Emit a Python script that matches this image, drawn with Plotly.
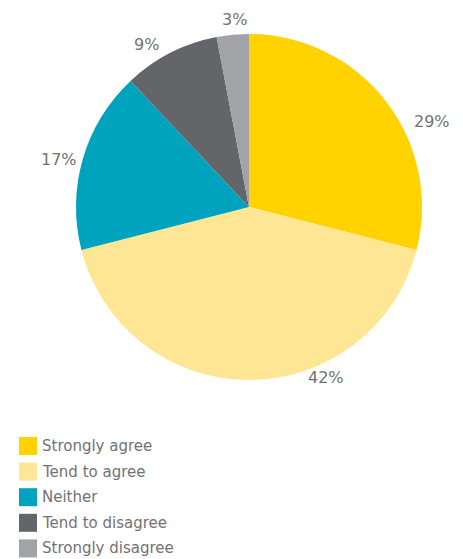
import plotly.graph_objects as go

# Survey response shares (percent)
categories = ["Strongly agree", "Tend to agree", "Neither", "Tend to disagree", "Strongly disagree"]
values = [29, 42, 17, 9, 3]
colors = ["#FFD200", "#FFE695", "#00A3BD", "#646569", "#A2A3A6"]

W, H = 463, 559
FONT = "DejaVu Sans"
TXT = "#727275"

fig = go.Figure(go.Pie(
    labels=categories,
    values=values,
    sort=False,
    direction="clockwise",
    rotation=0,
    marker=dict(colors=colors, line=dict(width=0)),
    textinfo="none",
    hoverinfo="label+percent",
    showlegend=False,
    domain=dict(x=[(249 - 173) / W, (249 + 173) / W],
                y=[(H - 207 - 173) / H, (H - 207 + 173) / H]),
))

# Percentage label placement (pixel anchor, horizontal anchor)
label_pos = [(412, 122, "left"), (326, 377, "center"), (59, 159, "center"),
             (146, 45, "center"), (234, 19, "center")]
annotations = []
for v, (px, py, xa) in zip(values, label_pos):
    annotations.append(dict(
        x=px / W, y=1 - py / H, xref="paper", yref="paper",
        text=f"{v}%", showarrow=False, xanchor=xa, yanchor="middle",
        font=dict(family=FONT, size=16, color=TXT),
    ))

# Legend block below the pie: square swatches with labels
shapes = []
LEG_X, LEG_Y0, ROW, SW = 19, 446, 25.6, 18
for i, (name, col) in enumerate(zip(categories, colors)):
    cy = LEG_Y0 + i * ROW
    shapes.append(dict(
        type="rect", xref="paper", yref="paper",
        x0=LEG_X / W, x1=(LEG_X + SW) / W,
        y0=1 - (cy + SW / 2) / H, y1=1 - (cy - SW / 2) / H,
        fillcolor=col, line=dict(width=0),
    ))
    annotations.append(dict(
        x=40 / W, y=1 - cy / H, xref="paper", yref="paper",
        text=name, showarrow=False, xanchor="left", yanchor="middle",
        font=dict(family=FONT, size=15, color=TXT),
    ))

fig.update_layout(
    width=W, height=H,
    margin=dict(l=0, r=0, t=0, b=0),
    paper_bgcolor="white", plot_bgcolor="white",
    annotations=annotations,
    shapes=shapes,
)

fig.write_html("out.html")
